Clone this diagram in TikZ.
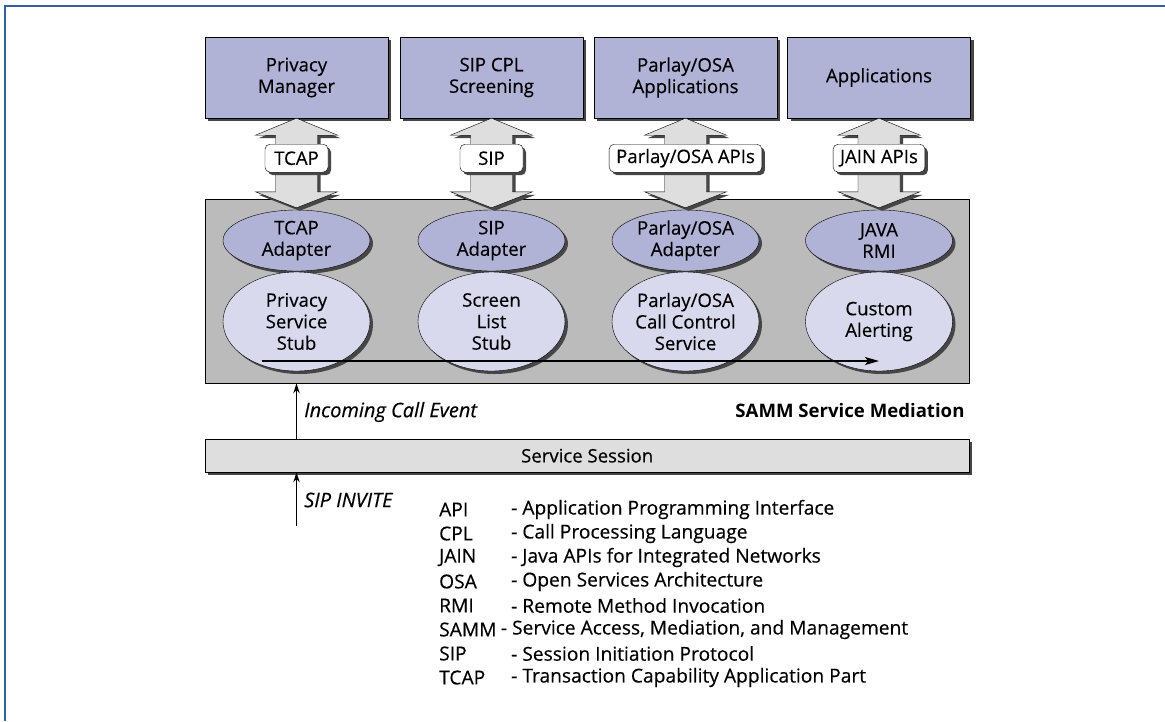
\documentclass[tikz,border=0pt]{standalone}
\usepackage{fontspec}
\setmainfont{Open Sans}[UprightFeatures={FakeBold=0.35},ItalicFeatures={FakeBold=0.35}]
\usetikzlibrary{shapes.geometric,shadows,arrows.meta,calc}

\definecolor{appfill}{RGB}{176,178,214}
\definecolor{stubfill}{RGB}{216,217,236}
\definecolor{medgray}{RGB}{187,187,187}
\definecolor{sessgray}{RGB}{222,222,222}
\definecolor{pipegray}{RGB}{222,222,222}
\definecolor{shade}{RGB}{70,70,70}
\definecolor{framebl}{RGB}{47,95,170}

\newcommand\bodyfont{\fontsize{18.6}{21.5}\selectfont}
\newcommand\legendfont{\fontsize{19.2}{22}\selectfont}
\newcommand\notefont{\fontsize{20}{22}\selectfont\itshape}

\tikzset{
  dshadow/.style={drop shadow={shadow xshift=3pt,shadow yshift=-3pt,opacity=1,fill=shade}},
  appbox/.style={draw,fill=appfill,minimum width=183pt,minimum height=81pt,inner sep=0pt,align=center,dshadow},
  adapter/.style={ellipse,draw,fill=appfill,minimum width=147pt,minimum height=61pt,inner sep=0pt,dshadow},
  stub/.style={ellipse,draw,fill=stubfill,minimum width=147pt,minimum height=99pt,inner sep=0pt,dshadow},
  intext/.style={align=center,inner sep=0pt},
  protocol/.style={draw,fill=white,rounded corners=5pt,minimum width=63pt,minimum height=28pt,inner xsep=7pt,inner ysep=0pt,dshadow},
  pipeshape/.style={draw,fill=pipegray,dshadow},
  flow/.style={line width=1.5pt,-{Stealth[length=14pt,width=8pt,inset=3pt]}},
  event/.style={line width=1.6pt,-{Stealth[length=10pt,width=6.5pt]}},
  abbr/.style={anchor=west,inner sep=0pt,font=\legendfont},
}

% wide two-headed pipe between an application box and its adapter
\newcommand\fatlink[2]{%
  \path[pipeshape] let \p1=(#1.south), \p2=(#2.north) in
    (\x1,\y1) -- ({\x1+41pt},{\y1-17pt}) -- ({\x1+21pt},{\y1-17pt})
    -- ({\x1+21pt},{\y2+18pt}) -- ({\x1+41pt},{\y2+18pt}) -- (\x1,{\y2+2pt})
    -- ({\x1-41pt},{\y2+18pt}) -- ({\x1-21pt},{\y2+18pt})
    -- ({\x1-21pt},{\y1-17pt}) -- ({\x1-41pt},{\y1-17pt}) -- cycle;}

\begin{document}
\begin{tikzpicture}[x=1pt,y=-1pt,every node/.append style={font=\bodyfont}]
\useasboundingbox (0,0) rectangle (1165,721);
\fill[white] (0,0) rectangle (1165,721);

% frame
\draw[framebl,line width=2.6pt] (5,721) -- (5,6) -- (1165,6);

% mediation layer
\node[draw,fill=medgray,minimum width=764pt,minimum height=184pt,inner sep=0pt,anchor=north west] (med) at (205,199) {};

% applications
\node[appbox] (pm)  at (296.5,77.5) {Privacy\\Manager};
\node[appbox] (cpl) at (491.5,77.5) {SIP CPL\\Screening};
\node[appbox] (poa) at (685.5,77.5) {Parlay/OSA\\Applications};
\node[appbox] (app) at (879,77.5)   {Applications};

% adapters
\node[adapter,label={[intext]center:TCAP\\Adapter}]       (a1) at (296.5,240.5) {};
\node[adapter,label={[intext]center:SIP\\Adapter}]        (a2) at (491.5,240.5) {};
\node[adapter,label={[intext]center:Parlay/OSA\\Adapter}] (a3) at (685.5,240.5) {};
\node[adapter,label={[intext]center:JAVA\\RMI}]           (a4) at (879,240.5)   {};

% protocol pipes
\fatlink{pm}{a1}
\fatlink{cpl}{a2}
\fatlink{poa}{a3}
\fatlink{app}{a4}

\node[protocol] (p1) at ($(pm.south)+(0,40)$)  {TCAP};
\node[protocol] (p2) at ($(cpl.south)+(0,40)$) {SIP};
\node[protocol] (p3) at ($(poa.south)+(0,40)$) {Parlay/OSA APIs};
\node[protocol] (p4) at ($(app.south)+(0,40)$) {JAIN APIs};

% service stubs
\node[stub,label={[intext]center:Privacy\\Service\\Stub}]            (s1) at (296.5,321.5) {};
\node[stub,label={[intext]center:Screen\\List\\Stub}]                (s2) at (491.5,321.5) {};
\node[stub,label={[intext]center:Parlay/OSA\\Call Control\\Service}] (s3) at (685.5,321.5) {};
\node[stub,label={[intext]center:Custom\\Alerting}]                  (s4) at (879,321.5)   {};

% call flow through the stubs
\coordinate (fs) at ($(s1.center)+(-35,39.5)$);
\draw[flow] (fs) -- (fs -| s4);

\node[anchor=east,font=\fontsize{18.6}{21}\selectfont\bfseries] (samm) at (968,411) {SAMM Service Mediation};

% service session
\node[draw,fill=sessgray,minimum width=764pt,minimum height=33pt,inner sep=0pt,anchor=north west,dshadow] (sess) at (205,439) {Service Session};

\draw[event] (sess.north -| s1) -- (med.south -| s1);
\node[anchor=west,font=\notefont,inner sep=0pt] (ice) at (304,412) {Incoming Call Event};

\coordinate (inv) at (296.5,526);
\draw[event] (inv) -- (sess.south -| inv);
\node[anchor=west,font=\notefont,inner sep=0pt] (sipinv) at (304,500) {SIP INVITE};

% abbreviations
\foreach \ab/\txt [count=\i from 0] in {API/Application Programming Interface,
    CPL/Call Processing Language,
    JAIN/Java APIs for Integrated Networks,
    OSA/Open Services Architecture,
    RMI/Remote Method Invocation,
    SIP/Session Initiation Protocol,
    TCAP/Transaction Capability Application Part}{
  \pgfmathsetmacro\yy{\i<5 ? 509.5+24*\i : 509.5+24*(\i+1)}
  \node[abbr] (ab\i) at (439,\yy) {\ab};
  \node[abbr] (de\i) at (511,\yy) {- \txt};
}
\node[abbr] (absamm) at (439,{509.5+24*5}) {SAMM};
\node[abbr] (desamm) at ($(absamm.east)+(4,0)$) {- Service Access, Mediation, and Management};
\end{tikzpicture}
\end{document}
